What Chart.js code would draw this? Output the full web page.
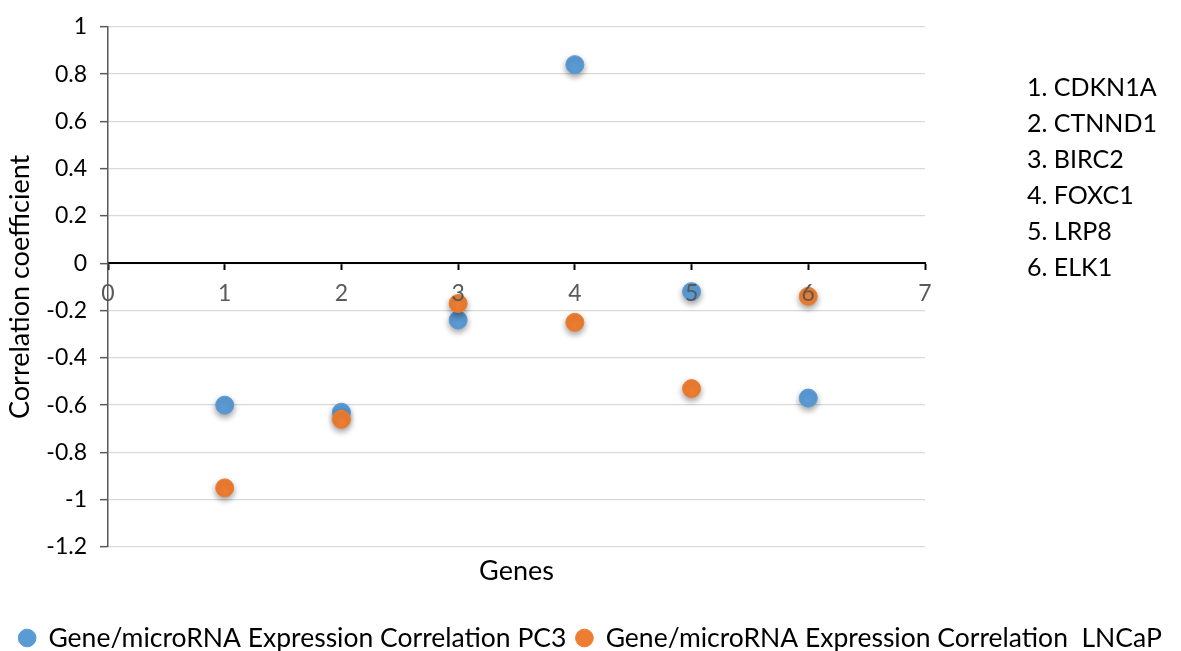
<!DOCTYPE html>
<html>
<head>
<meta charset="utf-8">
<script src="https://cdn.jsdelivr.net/npm/chart.js@4"></script>
<style>
html,body{margin:0;padding:0;background:#fff;}
#wrap{width:1181px;height:651px;position:relative;}
</style>
</head>
<body>
<div id="wrap"><canvas id="c" width="1181" height="651"></canvas></div>
<script>
const geneNumbers = [1, 2, 3, 4, 5, 6];
const geneNames = ['CDKN1A', 'CTNND1', 'BIRC2', 'FOXC1', 'LRP8', 'ELK1'];
const pc3Values = [-0.60, -0.63, -0.24, 0.84, -0.12, -0.57];
const lncapValues = [-0.95, -0.66, -0.17, -0.25, -0.53, -0.14];
const seriesNames = ['Gene/microRNA Expression Correlation PC3', 'Gene/microRNA Expression Correlation  LNCaP'];
const xAxisTitle = 'Genes';
const yAxisTitle = 'Correlation coefficient';

const FONT = 'Lato, "Open Sans", "DejaVu Sans", sans-serif';

const pts = (ys) => geneNumbers.map((x, i) => ({x: x, y: ys[i]}));

const shadowPlugin = {
  id: 'shadow',
  beforeDatasetsDraw(chart) {
    const ctx = chart.ctx;
    ctx.save();
    ctx.shadowColor = 'rgba(0,0,0,0.38)';
    ctx.shadowBlur = 6;
    ctx.shadowOffsetX = 0;
    ctx.shadowOffsetY = 3;
  },
  afterDatasetsDraw(chart) {
    chart.ctx.restore();
  }
};

const geneListPlugin = {
  id: 'geneList',
  afterDraw(chart) {
    const ctx = chart.ctx;
    ctx.save();
    ctx.font = '25px ' + FONT;
    ctx.fillStyle = '#000';
    ctx.textBaseline = 'middle';
    ctx.textAlign = 'left';
    geneNames.forEach((g, i) => {
      ctx.fillText(geneNumbers[i] + '. ' + g, 1027, 88 + 36 * i);
    });
    ctx.restore();
  }
};

new Chart(document.getElementById('c'), {
  type: 'scatter',
  data: {
    datasets: [
      {
        label: seriesNames[0],
        data: pts(pc3Values),
        backgroundColor: '#5B9BD5',
        borderColor: '#5B9BD5',
        borderWidth: 1,
        pointRadius: 9,
        pointHoverRadius: 9,
        order: 1
      },
      {
        label: seriesNames[1],
        data: pts(lncapValues),
        backgroundColor: '#ED7D31',
        borderColor: '#ED7D31',
        borderWidth: 1,
        pointRadius: 9,
        pointHoverRadius: 9,
        order: 0
      }
    ]
  },
  options: {
    responsive: false,
    animation: false,
    layout: {padding: {left: 0, right: 0, top: 17, bottom: -10.25}},
    plugins: {
      tooltip: {enabled: false},
      legend: {
        position: 'bottom',
        labels: {
          usePointStyle: true,
          pointStyle: 'circle',
          boxWidth: 16,
          boxHeight: 12.5,
          padding: 10,
          color: '#000',
          font: {family: FONT, size: 26.5},
          sort: (a, b) => a.datasetIndex - b.datasetIndex
        }
      }
    },
    scales: {
      x: {
        type: 'linear',
        position: {y: 0},
        min: 0,
        max: 7,
        ticks: {stepSize: 1, color: '#595959', padding: 11, z: 1, font: {family: FONT, size: 23}},
        grid: {drawOnChartArea: false, drawTicks: true, tickLength: 6, tickColor: '#000', tickWidth: 2},
        border: {color: '#000', width: 2}
      },
      x2: {
        type: 'linear',
        position: 'bottom',
        axis: 'x',
        min: 0,
        max: 7,
        ticks: {display: false},
        grid: {display: false},
        border: {display: false},
        title: {display: true, text: xAxisTitle, color: '#000', font: {family: FONT, size: 27}, padding: {top: 27.5, bottom: 27.5}},
        afterFit(s) { s.height = 67.75; }
      },
      y: {
        type: 'linear',
        position: 'left',
        min: -1.2,
        max: 1,
        ticks: {
          stepSize: 0.2,
          color: '#000',
          padding: 13,
          font: {family: FONT, size: 23},
          callback: (v) => String(+v.toFixed(1))
        },
        grid: {color: '#d9d9d9', lineWidth: 1.3, tickLength: 8, tickColor: '#595959', tickWidth: 1.5},
        border: {color: '#595959', width: 1.5},
        title: {display: true, text: yAxisTitle, color: '#000', font: {family: FONT, size: 27}, padding: {top: 4, bottom: 4}},
        afterFit(s) { s.width = 108; }
      },
      yR: {
        type: 'linear',
        position: 'right',
        axis: 'y',
        min: -1.2,
        max: 1,
        ticks: {display: false},
        grid: {display: false},
        border: {display: false},
        afterFit(s) { s.width = 256; }
      }
    }
  },
  plugins: [shadowPlugin, geneListPlugin]
});
</script>
</body>
</html>
